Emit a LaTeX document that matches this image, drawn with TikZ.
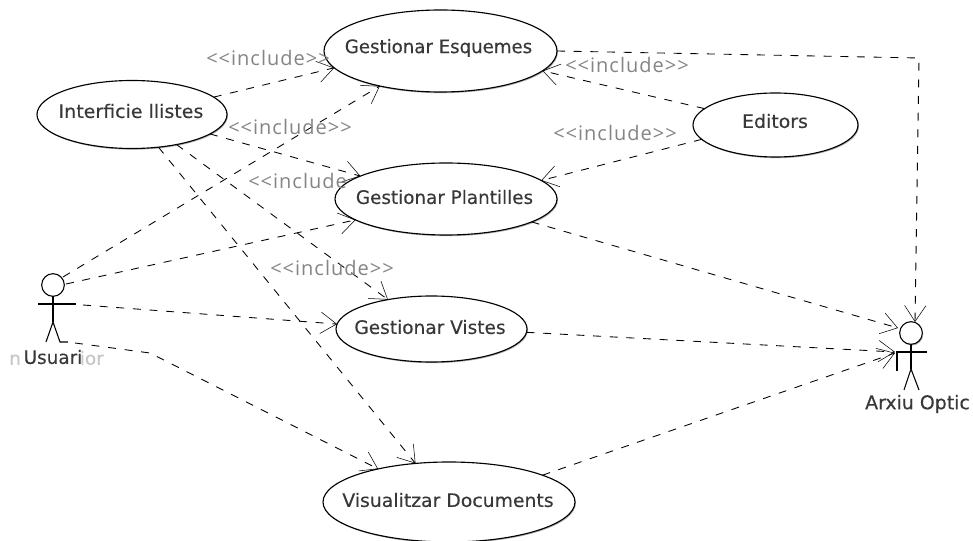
\documentclass[tikz,border=0pt]{standalone}
\usepackage{graphicx}
\usepackage{fontspec}
\setmainfont{DejaVu Sans}
\newfontfamily\lblfont[LetterSpace=5]{Open Sans}
\newfontfamily\boldish[FakeBold=0.3]{DejaVu Sans}
\usetikzlibrary{arrows.meta,shadows,shapes.geometric}
\definecolor{txt}{gray}{0.22}
\tikzset{
  px/.style={x=0.75pt,y=-0.75pt},
  uc/.style={draw=black,fill=white,shape=ellipse,line width=0.85pt,inner sep=0,outer sep=0,
    drop shadow={shadow xshift=0.7pt,shadow yshift=-0.9pt,fill=black,opacity=0.3}},
  uctext/.style={font=\boldish\fontsize{13.9}{16}\selectfont,text=txt,inner sep=0},
  dep/.style={draw=black,line width=0.65pt,dash pattern=on 6pt off 6.5pt,
    -{Straight Barb[length=12pt,width=16pt,line width=0.4pt]}},
  lbl/.style={text=black!48,font=\lblfont\fontsize{15}{17}\selectfont,inner sep=0},
  stick/.style={draw=black,line width=0.8pt},
  actorname/.style={text=txt,font=\boldish\fontsize{13.8}{16}\selectfont,inner sep=0},
}
\begin{document}
\begin{tikzpicture}[px]
\useasboundingbox (0,0) rectangle (973,541);
\fill[white] (0,0) rectangle (973,541);
\node[uc,minimum width=174.75pt,minimum height=61.5pt] (ge) at (440.5,51) {};
\node[uc,minimum width=142.5pt,minimum height=51pt] (ie) at (132,114.5) {};
\node[uc,minimum width=123.75pt,minimum height=48pt] (ed) at (775.5,125) {};
\node[uc,minimum width=166.5pt,minimum height=54pt] (gp) at (446,199) {};
\node[uc,minimum width=143.25pt,minimum height=49.5pt] (gv) at (431.5,329) {};
\node[uc,minimum width=189pt,minimum height=60pt] (vd) at (449,502) {};
\node[uctext] (tge) at (438.5,48) {\scalebox{0.98}[1]{Gestionar Esquemes}};
\node[uctext] (tie) at (131,111) {\scalebox{1.025}[1]{Interficie llistes}};
\node[uctext] (ted) at (775,121) {\scalebox{1.02}[1]{Editors}};
\node[uctext] (tgp) at (444.5,197) {\scalebox{0.99}[1]{Gestionar Plantilles}};
\node[uctext] (tgv) at (430,327) {Gestionar Vistes};
\node[uctext] (tvd) at (448,500) {\scalebox{1.016}[1]{Visualitzar Documents}};
% actor Usuari
\node[draw=black,circle,line width=0.8pt,inner sep=0,minimum size=17pt,outer sep=0] (ua) at (53,285) {};
\coordinate (uh) at (53,322);
\draw[stick] (ua.south) -- (uh);
\coordinate (ual) at (38,304);
\coordinate (uar) at (76,304);
\draw[stick] (ual) -- (uar);
\coordinate (ull) at (46,342);
\coordinate (ulr) at (60,342);
\coordinate (uft) at (68,342);
\draw[stick] (ull) -- (uh) -- (ulr) -- (uft);
\node[text=black!22,font=\boldish\fontsize{13.8}{16}\selectfont,inner sep=0] (ghost) at (56.5,358) {n\hspace{3.2em}ior};
\node[actorname] (un) at (53,357) {Usuari};
% actor Arxiu
\node[draw=black,circle,line width=0.8pt,inner sep=0,minimum size=17pt,outer sep=0,
  drop shadow={shadow xshift=0.7pt,shadow yshift=-0.9pt,fill=black,opacity=0.3},fill=white] (aa) at (911,333) {};
\coordinate (ah) at (911,369);
\draw[stick] (aa.south) -- (ah);
\coordinate (aal) at (896,352);
\coordinate (aar) at (927,352);
\coordinate (aad) at (897,371);
\draw[stick] (aal) -- (aar) (aad) -- (897,352);
\coordinate (all) at (904,390);
\coordinate (alr) at (919,390);
\draw[stick] (all) -- (ah) -- (alr);
\node[actorname,font=\boldish\fontsize{14.2}{16}\selectfont] (an) at (917.5,404) {Arxiu Optic};
% free-end helpers
\coordinate (u1) at (63,277);
\coordinate (u2) at (66,284);
\coordinate (u3) at (83,305);
\coordinate (u4) at (75,343);
\coordinate (ub) at (150,353);
\coordinate (gb) at (919,58);
\coordinate (a1) at (915,322);
\coordinate (a2) at (898,328);
\coordinate (a3) at (895,352);
\coordinate (a4) at (895,353);
% connectors
\draw[dep] (ie.12.2) -- (ge.189.7);
\draw[dep] (ie.-14.7) -- (gp.165.7);
\draw[dep] (ie.-34.1) -- (gv.146.3);
\draw[dep] (ie.-51.3) -- (vd.131.1);
\draw[dep] (u1) -- (ge.210);
\draw[dep] (u2) -- (gp.193);
\draw[dep] (u3) -- (gv.177.6);
\draw[dep] (u4) -- (ub) -- (vd.155.1);
\draw[dep] (ge.0) -- (gb) -- (a1);
\draw[dep] (ed.167.15) -- (ge.-11.7);
\draw[dep] (ed.191.5) -- (gp.11.7);
\draw[dep] (gp.-15) -- (a2);
\draw[dep] (gv.-2.4) -- (a3);
\draw[dep] (vd.16.2) -- (a4);
% labels
\node[lbl,anchor=west] (l1) at (206,58) {<<include>>};
\node[lbl,anchor=west] (l2) at (228,127) {<<include>>};
\node[lbl,anchor=west] (l3) at (248,181) {<<include};
\node[lbl,anchor=west] (l4) at (270,268) {<<include>>};
\node[lbl,anchor=west] (l5) at (553,133) {<<include>>};
\node[lbl,anchor=west] (l6) at (565,65) {<<include>>};
\end{tikzpicture}
\end{document}
